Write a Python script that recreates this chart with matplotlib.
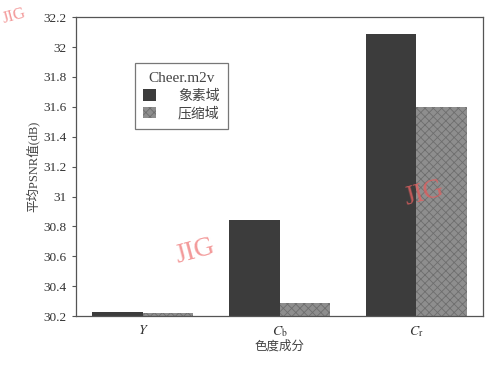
import numpy as np
import matplotlib
matplotlib.use('Agg')
import matplotlib.pyplot as plt

plt.rcParams['font.family'] = ['Liberation Serif', 'Noto Sans CJK SC']
plt.rcParams['mathtext.fontset'] = 'stix'
plt.rcParams['hatch.linewidth'] = 0.6

# data
components = [r'$Y$', r'$C_{\rm b}$', r'$C_{\rm r}$']
pixel_domain = [30.23, 30.84, 32.09]
compressed_domain = [30.22, 30.29, 31.60]
yticks = [30.2, 30.4, 30.6, 30.8, 31.0, 31.2, 31.4, 31.6, 31.8, 32.0, 32.2]
ytick_labels = ['30.2', '30.4', '30.6', '30.8', '31', '31.2', '31.4',
                '31.6', '31.8', '32', '32.2']

fig = plt.figure(figsize=(4.87, 3.65), dpi=100)
ax = fig.add_axes([0.156, 0.134, 0.836, 0.819])

x = np.arange(len(components))
w = 0.37
ax.bar(x - w / 2, np.array(pixel_domain) - 30.2, w, bottom=30.2,
       color='#3c3c3c', label='象素域')
ax.bar(x + w / 2, np.array(compressed_domain) - 30.2, w, bottom=30.2,
       facecolor='#8e8e8e', edgecolor='#6e6e6e', hatch='xxxx', linewidth=0,
       label='压缩域')

ax.set_xlim(-0.49, 2.49)
ax.set_ylim(30.2, 32.2)
ax.set_xticks(x)
ax.set_xticklabels(components, fontsize=10, color='#333333')
ax.set_yticks(yticks)
ax.set_yticklabels(ytick_labels, fontsize=9.5, color='#333333')
ax.tick_params(axis='x', length=0, pad=6)
ax.tick_params(axis='y', length=3, direction='out', color='#555555')
for s in ax.spines.values():
    s.set_color('#555555')
    s.set_linewidth(0.9)

ax.set_xlabel('色度成分', fontsize=9, color='#444444', labelpad=1)
ax.set_ylabel('平均PSNR值(dB)', fontsize=9, color='#444444', labelpad=3)

leg = ax.legend(title='Cheer.m2v', loc='upper left',
                bbox_to_anchor=(0.145, 0.845), fontsize=10, title_fontsize=11,
                frameon=True, fancybox=False, edgecolor='#555555',
                handlelength=0.9, handleheight=0.9, borderpad=0.6,
                labelspacing=0.3, handletextpad=1.6, borderaxespad=0)
leg.get_frame().set_linewidth(0.9)
leg.get_title().set_color('#444444')
for t in leg.get_texts():
    t.set_color('#444444')

# red watermarks
fig.text(0.40, 0.31, 'JIG', color='#f08080', fontsize=20, rotation=15,
         alpha=0.8, ha='center', va='center')
fig.text(0.87, 0.47, 'JIG', color='#e06060', fontsize=20, rotation=15,
         alpha=0.8, ha='center', va='center')
fig.text(0.002, 0.955, 'JIG', color='#f08080', fontsize=12, rotation=15,
         alpha=0.8, ha='left', va='center')

fig.savefig('out.png', dpi=100)
